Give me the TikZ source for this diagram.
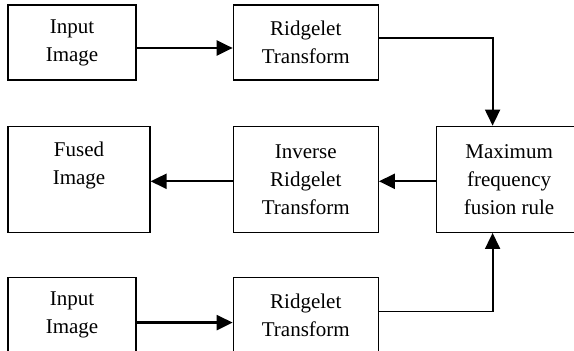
\documentclass[tikz,border=0pt]{standalone}
\usepackage{fontspec}
\setmainfont{Liberation Serif}
\usetikzlibrary{arrows.meta, positioning}

\begin{document}
\begin{tikzpicture}[x=1pt, y=1pt, font=\fontsize{21}{28}\selectfont,
    >={Triangle[length=16pt, width=15pt]}]
    % Styles
    \tikzstyle{blk} = [draw, rectangle, line width=1.3pt, align=center, inner sep=0pt, minimum height=75pt]
    \tikzstyle{tall} = [blk, minimum height=106pt]
    \tikzstyle{arr} = [->, line width=2.4pt]
    \tikzstyle{elbow} = [->, line width=1.8pt]

    \useasboundingbox (0,0) rectangle (574,351);

    % Nodes
    \node (in1) [blk, minimum width=128pt] at (72,308.5) {Input\\Image};
    \node (rt1) [blk, minimum width=145pt, right=96pt of in1] {Ridgelet\\Transform};

    \node (fused) [tall, minimum width=142pt, below=45pt of in1.south west, anchor=north west] {Fused\\Image\\\phantom{Image}};
    \node (inv) [tall, minimum width=145pt, right=82pt of fused] {Inverse\\Ridgelet\\Transform};
    \node (max) [tall, minimum width=145pt, right=57pt of inv] {Maximum\\frequency\\fusion rule};

    \node (in2) [blk, minimum width=128pt, below=44pt of fused.south west, anchor=north west] {Input\\Image};
    \node (rt2) [blk, minimum width=145pt, right=96pt of in2] {Ridgelet\\Transform};

    % Paths
    \draw [arr] ([yshift=-5.5pt]in1.east) -- ([yshift=-5.5pt]rt1.west);
    \draw [elbow] ([yshift=4.5pt]rt1.east) -| ([xshift=-16.5pt]max.north);

    \draw [arr] ([yshift=-2pt]max.west) -- ([yshift=-2pt]inv.east);
    \draw [arr] ([yshift=-2pt]inv.west) -- ([yshift=-2pt]fused.east);

    \draw [arr] ([yshift=-7.5pt]in2.east) -- ([yshift=-7.5pt]rt2.west);
    \draw [elbow] ([yshift=3.5pt]rt2.east) -| ([xshift=-16.5pt]max.south);

\end{tikzpicture}
\end{document}
